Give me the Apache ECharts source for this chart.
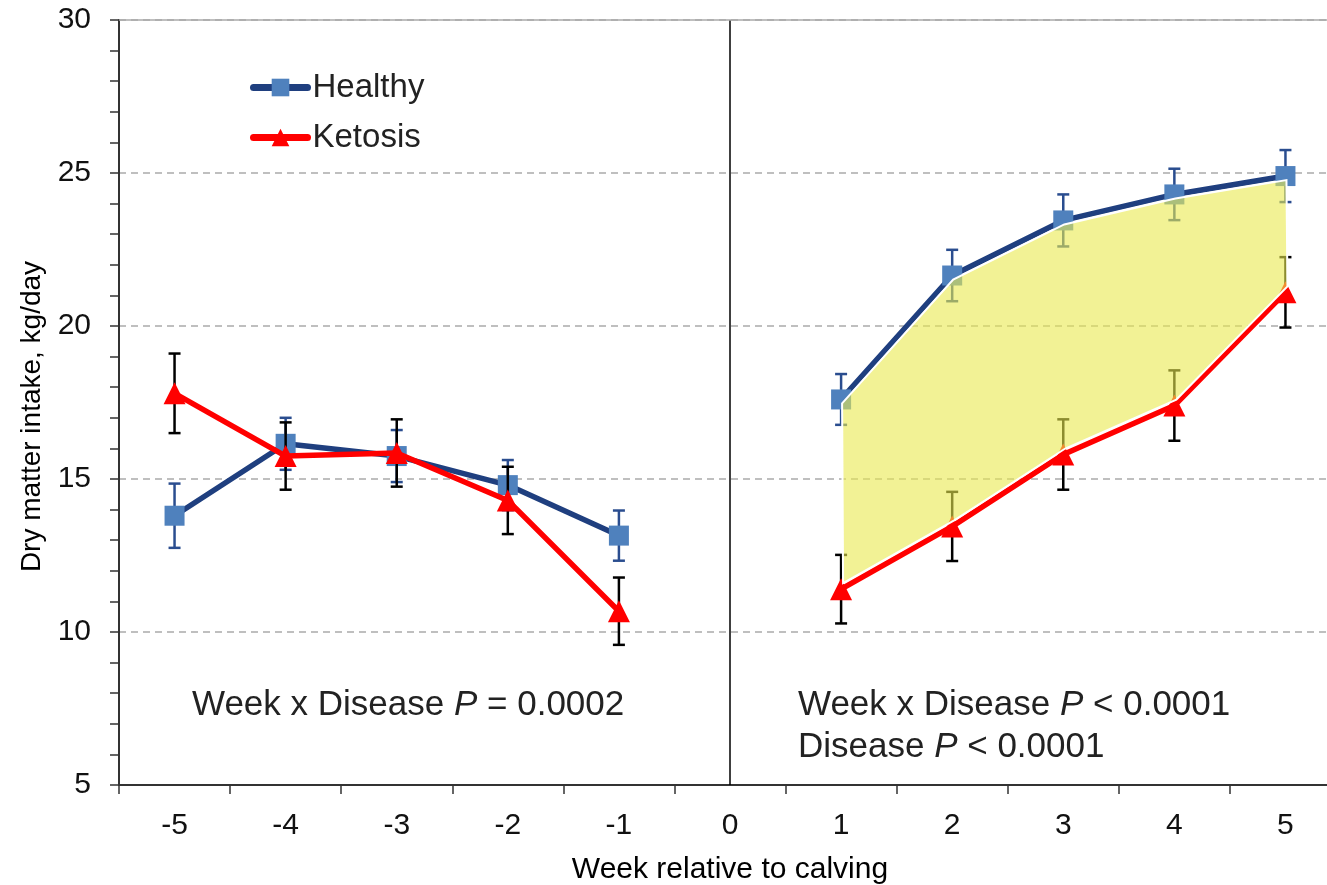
<!DOCTYPE html>
<html><head><meta charset="utf-8">
<script src="https://cdn.jsdelivr.net/npm/echarts@6/dist/echarts.min.js"></script>
<style>html,body{margin:0;padding:0;background:#fff}#c{width:1327px;height:885px}</style>
</head><body><div id="c"></div>
<script>
var weeks = ['-5','-4','-3','-2','-1','0','1','2','3','4','5'];
var healthy   = [13.8, 16.15, 15.75, 14.8, 13.15, null, 17.6, 21.65, 23.45, 24.3, 24.9];
var healthySE = [1.05, 0.85, 0.85, 0.82, 0.82, null, 0.83, 0.84, 0.85, 0.84, 0.85];
var ketosis   = [17.8, 15.75, 15.85, 14.3, 10.68, null, 11.4, 13.45, 15.8, 17.4, 21.1];
var ketosisSE = [1.3, 1.1, 1.1, 1.1, 1.1, null, 1.12, 1.13, 1.15, 1.15, 1.15];
var shadeWeeks = ['1','2','3','4','5'];
var yTicks = [5, 10, 15, 20, 25, 30];

var FONT = 'Liberation Sans';
function errData(v, se){
  var out = [];
  for (var i = 0; i < v.length; i++) if (v[i] != null) out.push([i, v[i] - se[i], v[i] + se[i]]);
  return out;
}
function errRender(color){
  return function(params, api){
    var x = api.value(0);
    var lo = api.coord([x, api.value(1)]);
    var hi = api.coord([x, api.value(2)]);
    var w = 6;
    var st = {stroke: color, lineWidth: 2.5};
    return {type:'group', children:[
      {type:'line', shape:{x1:hi[0], y1:hi[1], x2:lo[0], y2:lo[1]}, style:st},
      {type:'line', shape:{x1:hi[0]-w, y1:hi[1], x2:hi[0]+w, y2:hi[1]}, style:st},
      {type:'line', shape:{x1:lo[0]-w, y1:lo[1], x2:lo[0]+w, y2:lo[1]}, style:st}
    ]};
  };
}
var idx0 = weeks.indexOf('0');
var shadeIdx = shadeWeeks.map(function(w){ return weeks.indexOf(w); });
var rich = {a:{fontSize:35, fontFamily:FONT, fill:'#222'}, i:{fontSize:35, fontFamily:FONT, fontStyle:'italic', fill:'#222'}};

var chart = echarts.init(document.getElementById('c'));
chart.setOption({
  animation: false,
  textStyle: {fontFamily: FONT},
  grid: {left: 119, right: -14, top: 20, bottom: 100, containLabel: false, outerBoundsMode: 'none'},
  legend: {
    data: [
      {name: 'Healthy', lineStyle: {width: 7, cap: 'round'}},
      {name: 'Ketosis', lineStyle: {width: 7, cap: 'round'}}
    ],
    orient: 'vertical', left: 245, top: 66,
    itemWidth: 54, itemHeight: 22, itemGap: 17,
    textStyle: {fontSize: 33, color: '#222', fontFamily: FONT}
  },
  xAxis: {
    type: 'category', data: weeks, boundaryGap: true,
    axisLine: {lineStyle: {color: '#333', width: 2}},
    axisTick: {show: true, length: 9, lineStyle: {color: '#333', width: 1.5}},
    axisLabel: {fontSize: 30, color: '#111', margin: 26},
    splitLine: {show: false},
    name: 'Week relative to calving', nameLocation: 'middle', nameGap: 70,
    nameTextStyle: {fontSize: 30, color: '#000'}
  },
  yAxis: {
    type: 'value', min: yTicks[0], max: yTicks[yTicks.length-1], interval: 5,
    axisLine: {show: true, lineStyle: {color: '#333', width: 2}},
    axisTick: {show: true, length: 9, lineStyle: {color: '#333', width: 1.5}},
    minorTick: {show: true, splitNumber: 5, length: 9, lineStyle: {color: '#333', width: 1.5}},
    axisLabel: {fontSize: 30, color: '#111', margin: 28},
    splitLine: {show: true, lineStyle: {color: '#aaa', type: [7, 5], width: 1.5}},
    name: 'Dry matter intake, kg/day', nameLocation: 'middle', nameGap: 72,
    nameTextStyle: {fontSize: 28, color: '#000', padding: [0, 28, 0, 0]}
  },
  graphic: [
    {type:'text', left: 192, top: 688, style:{text: '{a|Week x Disease }{i|P}{a| = 0.0002}', rich: rich}},
    {type:'text', left: 798, top: 688, style:{text: '{a|Week x Disease }{i|P}{a| < 0.0001}', rich: rich}},
    {type:'text', left: 798, top: 730, style:{text: '{a|Disease }{i|P}{a| < 0.0001}', rich: rich}}
  ],
  series: [
    {
      name: 'Healthy', type: 'line', data: healthy, z: 3,
      symbol: 'rect', symbolSize: 20, connectNulls: false,
      lineStyle: {color: '#1f3f7f', width: 5.5},
      itemStyle: {color: '#4f81bd', borderWidth: 0},
      markLine: {
        silent: true, symbol: 'none', label: {show: false}, animation: false,
        data: [
          {xAxis: idx0, lineStyle: {color: '#000', width: 1.5, type: 'solid'}},
          {yAxis: yTicks[yTicks.length-1], lineStyle: {color: '#aaa', width: 1.5, type: 'solid'}}
        ]
      }
    },
    {
      name: 'hErr', type: 'custom', data: errData(healthy, healthySE), z: 2,
      renderItem: errRender('#2a4d8f')
    },
    {
      name: 'kErr', type: 'custom', data: errData(ketosis, ketosisSE), z: 4,
      renderItem: errRender('#000')
    },
    {
      name: 'Ketosis', type: 'line', data: ketosis, z: 5,
      symbol: 'triangle', symbolSize: 22, connectNulls: false,
      lineStyle: {color: '#ff0000', width: 5.5},
      itemStyle: {color: '#ff0000', borderWidth: 0}
    },
    {
      name: 'shade', type: 'custom', z: 6, data: [[shadeIdx[0], healthy[shadeIdx[0]]]],
      renderItem: function(params, api){
        var pts = [];
        shadeIdx.forEach(function(i){ var p = api.coord([i, healthy[i]]); pts.push([p[0] + 1, p[1] + 4]); });
        shadeIdx.slice().reverse().forEach(function(i){ var p = api.coord([i, ketosis[i]]); pts.push([p[0] + 2, p[1] - 6]); });
        return {type:'polygon', shape:{points: pts}, style:{fill:'rgba(233,233,78,0.6)', stroke:'#fff', lineWidth: 2}};
      }
    }
  ]
});
</script></body></html>
